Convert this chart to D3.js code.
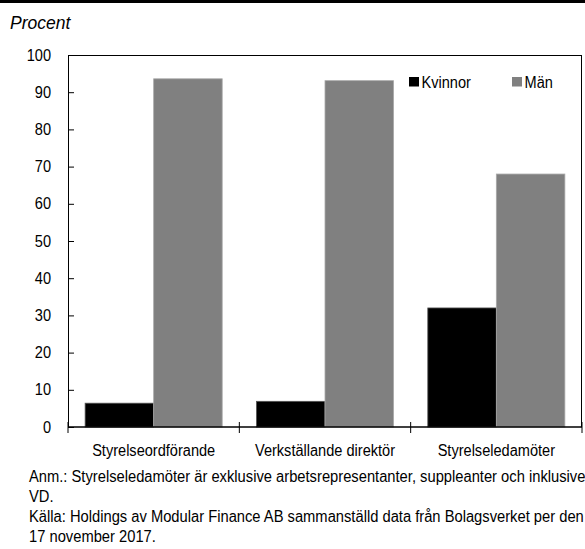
<!DOCTYPE html>
<html>
<head>
<meta charset="utf-8">
<script src="https://cdn.jsdelivr.net/npm/d3@7"></script>
<style>
  body { margin: 0; background: #fff; }
  text { font-family: "Liberation Sans", Arial, sans-serif; fill: #000; }
</style>
</head>
<body>
<svg id="chart" width="585" height="549"></svg>
<script>
var categories = ["Styrelseordförande", "Verkställande direktör", "Styrelseledamöter"]
var seriesNames = ["Kvinnor", "Män"]
var kvinnor = [6.4, 6.9, 32.0]
var man = [93.6, 93.1, 68.0]
var yTicks = [0, 10, 20, 30, 40, 50, 60, 70, 80, 90, 100]
var notes = [
    "Anm.: Styrelseledamöter är exklusive arbetsrepresentanter, suppleanter och inklusive",
    "VD.",
    "Källa: Holdings av Modular Finance AB sammanställd data från Bolagsverket per den",
    "17 november 2017."
]

var colors = ["#000000", "#808080"]
var strokes = ["#555555", "#a8a8a8"]

var svg = d3.select("svg#chart")
var margin = {left: 68, right: 3, top: 55, bottom: 122}
var width = 585 - margin.left - margin.right,
    height = 549 - margin.top - margin.bottom

// the condensed look of the original: squeeze a regular sans sideways
function condense(k) {
    return function (sel) {
        sel.each(function () {
            var w = this.getComputedTextLength()
            d3.select(this).attr("textLength", w * k).attr("lengthAdjust", "spacingAndGlyphs")
        })
    }
}

// top band (cut-off title)
svg.append("rect").attr("x", 0).attr("y", 0).attr("width", 585).attr("height", 3).attr("fill", "#000")

svg.append("text").attr("x", 10).attr("y", 29).text("Procent")
    .style("font-style", "italic").style("font-size", "17.5px")

var g = svg.append("g").attr("transform", "translate(" + margin.left + "," + margin.top + ")")

var x0 = d3.scaleBand().domain(categories).range([0, width]).paddingInner(0.2).paddingOuter(0.1)
var x1 = d3.scaleBand().domain(seriesNames).range([0, x0.bandwidth()])
var y = d3.scaleLinear().domain([0, 100]).range([height, 0])

var data = categories.map(function (c, i) {
    return {cat: c, values: [kvinnor[i], man[i]]}
})

var groups = g.selectAll(".grp").data(data).enter().append("g")
    .attr("transform", function (d) { return "translate(" + x0(d.cat) + ",0)" })

groups.selectAll("rect").data(function (d) {
    return d.values.map(function (v, j) { return {name: seriesNames[j], value: v, j: j} })
}).enter().append("rect")
    .attr("x", function (d) { return x1(d.name) })
    .attr("width", x1.bandwidth())
    .attr("y", function (d) { return y(d.value) })
    .attr("height", function (d) { return height - y(d.value) })
    .attr("fill", function (d) { return colors[d.j] })
    .attr("stroke", function (d) { return strokes[d.j] })
    .attr("stroke-width", 0.8)

// frame top + right
g.append("line").attr("x1", 0).attr("x2", width).attr("y1", 0.5).attr("y2", 0.5).attr("stroke", "#000")
g.append("line").attr("x1", width - 0.5).attr("x2", width - 0.5).attr("y1", 0).attr("y2", height).attr("stroke", "#000")

// y axis, ticks pointing inward
var yAxis = g.append("g").call(d3.axisRight(y).tickValues(yTicks).tickSize(6).tickFormat(""))
yAxis.select(".domain").remove()
g.append("line").attr("x1", 0.5).attr("x2", 0.5).attr("y1", 0).attr("y2", height).attr("stroke", "#000")
g.selectAll(".ylab").data(yTicks).enter().append("text")
    .attr("class", "ylab")
    .attr("x", -17).attr("y", function (d) { return y(d) + 5.5 })
    .attr("text-anchor", "end").style("font-size", "16px")
    .text(function (d) { return d })
    .call(condense(0.91))

// x axis, ticks at band boundaries
var bounds = categories.map(function (c) { return x0(c) - x0.step() * x0.paddingOuter() })
bounds.push(width)
g.append("line").attr("x1", 0).attr("x2", width).attr("y1", height).attr("y2", height).attr("stroke", "#000").attr("stroke-width", 1.5)
g.selectAll(".xtick").data(bounds).enter().append("line")
    .attr("x1", function (d) { return d }).attr("x2", function (d) { return d })
    .attr("y1", height - 5).attr("y2", height + 6).attr("stroke", "#000")
g.selectAll(".xlab").data(categories).enter().append("text")
    .attr("class", "xlab")
    .attr("x", function (c) { return x0(c) + x0.bandwidth() / 2 })
    .attr("y", height + 29).attr("text-anchor", "middle").style("font-size", "16px")
    .text(function (c) { return c })
    .call(condense(0.91))

// legend
var legend = g.selectAll(".leg").data(seriesNames).enter().append("g")
    .attr("transform", function (d, i) { return "translate(" + (341 + i * 103) + ",22)" })
legend.append("rect").attr("width", 10).attr("height", 9.5).attr("fill", function (d, i) { return colors[i] })
legend.append("text").attr("x", 12.5).attr("y", 11).style("font-size", "16px").text(function (d) { return d })
    .call(condense(0.91))

// notes
svg.selectAll(".note").data(notes).enter().append("text")
    .attr("class", "note")
    .attr("x", 29).attr("y", function (d, i) { return 482 + i * 20 })
    .style("font-size", "16px").text(function (d) { return d })
    .call(condense(0.92))
</script>
</body>
</html>
